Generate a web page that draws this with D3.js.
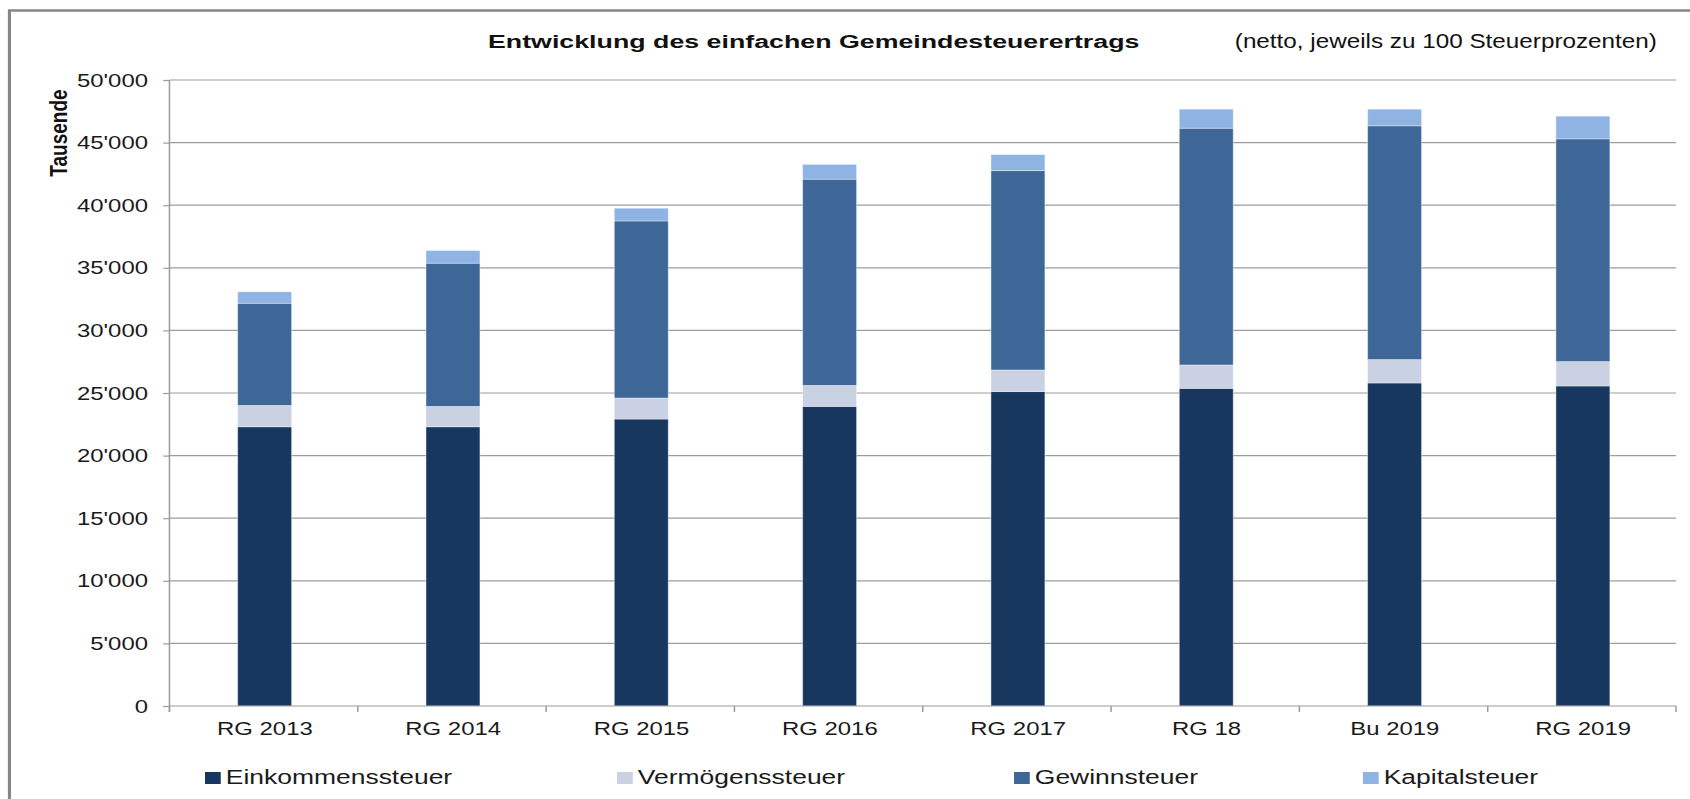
<!DOCTYPE html>
<html lang="de">
<head>
  <meta charset="UTF-8" />
  <title>Entwicklung des einfachen Gemeindesteuerertrags</title>
  <script src="https://d3js.org/d3.v7.min.js"></script>
  <style>
    html, body { margin: 0; padding: 0; background: #fff; overflow: hidden; }
    svg { display: block; font-family: 'Liberation Sans', Arial, sans-serif; }
  </style>
</head>
<body>
  <svg id="chart" width="1690" height="799"></svg>

  <script>
    // data (Tausende CHF)
    const categories = ["RG 2013", "RG 2014", "RG 2015", "RG 2016", "RG 2017", "RG 18", "Bu 2019", "RG 2019"];
    const einkommenssteuer = [22300, 22300, 22920, 23930, 25110, 25370, 25800, 25560];
    const vermoegenssteuer = [1710, 1630, 1680, 1680, 1730, 1870, 1870, 1950];
    const gewinnsteuer = [8160, 11440, 14140, 16470, 15920, 18910, 18670, 17790];
    const kapitalsteuer = [910, 1010, 1020, 1180, 1280, 1520, 1330, 1810];
    const seriesNames = ["Einkommenssteuer", "Vermögenssteuer", "Gewinnsteuer", "Kapitalsteuer"];
    const seriesColors = ["#18375e", "#c9d1e3", "#3e6797", "#8fb3e2"];
    const yTicks = [0, 5000, 10000, 15000, 20000, 25000, 30000, 35000, 40000, 45000, 50000];

    // the original chart is stretched horizontally, so draw in a narrower viewBox
    const SX = 1.26;
    const W = 1690 / SX, H = 799;
    const svg = d3.select("#chart")
      .attr("viewBox", `0 0 ${W} ${H}`)
      .attr("preserveAspectRatio", "none");

    const plotLeft = 134.5, plotRight = 1330.2, plotTop = 80, plotBottom = 706;
    const grey = "#9c9c9c";

    const rows = categories.map((c, i) => ({
      cat: c,
      Einkommenssteuer: einkommenssteuer[i],
      "Vermögenssteuer": vermoegenssteuer[i],
      Gewinnsteuer: gewinnsteuer[i],
      Kapitalsteuer: kapitalsteuer[i]
    }));
    const stacked = d3.stack().keys(seriesNames)(rows);

    const x = d3.scaleBand().domain(categories).range([plotLeft, plotRight]).padding(0);
    const y = d3.scaleLinear().domain([0, 50000]).range([plotBottom, plotTop]);
    const color = d3.scaleOrdinal().domain(seriesNames).range(seriesColors);
    const fmt = d3.formatLocale({ decimal: ".", thousands: "'", grouping: [3], currency: ["", ""] }).format(",");

    // frame
    svg.append("path")
      .attr("d", `M7.5,${H} V10.5 H${W}`)
      .attr("fill", "none")
      .attr("stroke", "#858585")
      .attr("stroke-width", 2.5);

    // gridlines
    svg.append("g")
      .selectAll("line")
      .data(yTicks.filter(d => d > 0))
      .join("line")
        .attr("x1", plotLeft).attr("x2", plotRight)
        .attr("y1", d => y(d)).attr("y2", d => y(d))
        .attr("stroke", grey)
        .attr("stroke-width", 1.2);

    // y axis
    const yAxis = svg.append("g")
      .attr("transform", `translate(${plotLeft},0)`)
      .call(d3.axisLeft(y).tickValues(yTicks).tickFormat(fmt).tickSize(5).tickPadding(12));
    yAxis.select(".domain").attr("stroke", grey).attr("stroke-width", 1.2)
      .attr("d", `M0,${plotTop}V${plotBottom + 6}`);
    yAxis.selectAll(".tick line").attr("stroke", grey).attr("stroke-width", 1.2);
    yAxis.selectAll(".tick text")
      .attr("font-size", 19)
      .attr("fill", "#1a1a1a")
      .attr("font-family", "'Liberation Sans', Arial, sans-serif");

    // bars
    const barW = 54 / SX;
    svg.append("g")
      .selectAll("g")
      .data(stacked)
      .join("g")
        .attr("fill", d => color(d.key))
      .selectAll("rect")
      .data(d => d)
      .join("rect")
        .attr("x", d => x(d.data.cat) + x.bandwidth() / 2 - barW / 2 + 0.8)
        .attr("y", d => y(d[1]))
        .attr("width", barW)
        .attr("height", d => y(d[0]) - y(d[1]))
        .attr("stroke", "rgba(255,255,255,0.45)")
        .attr("stroke-width", 0.8);

    // x axis
    const xAxis = svg.append("g").attr("transform", `translate(0,${plotBottom})`);
    xAxis.append("line")
      .attr("x1", plotLeft).attr("x2", plotRight)
      .attr("stroke", grey).attr("stroke-width", 1.2);
    xAxis.selectAll("line.tick")
      .data(categories.map(c => x(c)).concat([plotRight]))
      .join("line")
        .attr("class", "tick")
        .attr("x1", d => d).attr("x2", d => d)
        .attr("y1", 0).attr("y2", 6)
        .attr("stroke", grey).attr("stroke-width", 1.2);
    xAxis.selectAll("text")
      .data(categories)
      .join("text")
        .attr("x", d => x(d) + x.bandwidth() / 2 + 1)
        .attr("y", 29)
        .attr("text-anchor", "middle")
        .attr("font-size", 19)
        .attr("fill", "#1a1a1a")
        .text(d => d);

    // y axis title
    svg.append("text")
      .attr("transform", "translate(53,133) rotate(-90)")
      .attr("text-anchor", "middle")
      .attr("font-size", 19)
      .attr("font-weight", "bold")
      .attr("fill", "#111")
      .text("Tausende");

    // titles
    svg.append("text")
      .attr("x", 387.3)
      .attr("y", 48)
      .attr("font-size", 19)
      .attr("font-weight", "bold")
      .attr("fill", "#111")
      .attr("textLength", 517)
      .attr("lengthAdjust", "spacingAndGlyphs")
      .text("Entwicklung des einfachen Gemeindesteuerertrags");

    svg.append("text")
      .attr("x", 980)
      .attr("y", 48)
      .attr("font-size", 19.5)
      .attr("fill", "#111")
      .attr("textLength", 335)
      .attr("lengthAdjust", "spacingAndGlyphs")
      .text("(netto, jeweils zu 100 Steuerprozenten)");

    // legend
    const legendX = [162.7, 489.7, 804.8, 1081.7];
    const legend = svg.append("g")
      .selectAll("g")
      .data(seriesNames)
      .join("g")
        .attr("transform", (d, i) => `translate(${legendX[i]},772)`);
    legend.append("rect")
      .attr("width", 12.5).attr("height", 12)
      .attr("fill", d => color(d));
    legend.append("text")
      .attr("x", 16.5)
      .attr("y", 12)
      .attr("font-size", 21)
      .attr("fill", "#1a1a1a")
      .text(d => d);
  </script>
</body>
</html>
